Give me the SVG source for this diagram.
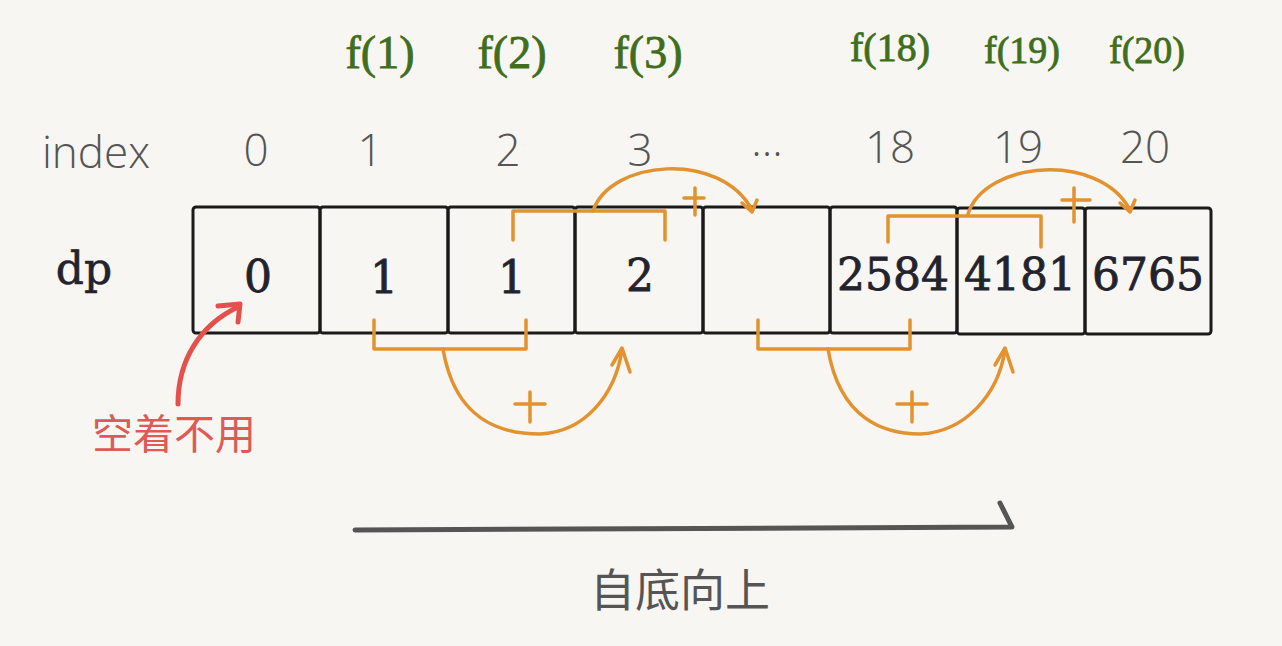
<svg xmlns="http://www.w3.org/2000/svg" width="1282" height="646" viewBox="0 0 1282 646">
<defs>
<style>
.idx{font-family:"Open Sans","Liberation Sans",sans-serif;font-weight:300;font-size:44px;fill:#555;text-anchor:middle}
.f{font-family:"Liberation Serif",serif;fill:#3f6e1c;text-anchor:middle;stroke:#3f6e1c;stroke-width:0.8}
.cell{fill:none;stroke:#1a1a1a;stroke-width:3}
.val{font-family:"DejaVu Serif","Liberation Serif",serif;font-size:44px;fill:#23232e;text-anchor:middle;stroke:#23232e;stroke-width:0.8}
.or{fill:none;stroke:#e2922f;stroke-width:3.5;stroke-linecap:round;stroke-linejoin:round}
.cjk{font-family:"Noto Sans CJK SC",sans-serif}
</style>
</defs>
<rect width="1282" height="646" fill="#f7f6f2"/>

<g id="index-row">
<text class="idx" x="96" y="168">index</text>
<text class="idx" x="256" y="166">0</text>
<text class="idx" x="370" y="166">1</text>
<text class="idx" x="508" y="166">2</text>
<text class="idx" x="640" y="166">3</text>
<text class="idx" x="767" y="169">···</text>
<text class="idx" x="890" y="163">18</text>
<text class="idx" x="1018" y="163">19</text>
<text class="idx" x="1145" y="163">20</text>
</g>

<g id="f-labels">
<text class="f" x="380" y="68" font-size="46">f(1)</text>
<text class="f" x="512" y="68" font-size="46">f(2)</text>
<text class="f" x="648" y="68" font-size="46">f(3)</text>
<text class="f" x="890" y="61" font-size="40">f(18)</text>
<text class="f" x="1022" y="63" font-size="38">f(19)</text>
<text class="f" x="1147" y="63" font-size="38">f(20)</text>
</g>

<g id="dp-label">
<text x="84" y="284" font-family="DejaVu Serif,Liberation Serif,serif" font-size="44" fill="#23232e" stroke="#23232e" stroke-width="0.6" text-anchor="middle">dp</text>
</g>

<g id="cells">
<rect class="cell" x="193" y="207" width="127" height="126" rx="3"/>
<rect class="cell" x="320" y="207" width="128" height="126" rx="3"/>
<rect class="cell" x="448" y="207" width="127" height="126" rx="3"/>
<rect class="cell" x="575" y="207" width="128" height="126" rx="3"/>
<rect class="cell" x="703" y="207" width="127" height="126" rx="3"/>
<rect class="cell" x="830" y="207" width="127" height="126" rx="3"/>
<rect class="cell" x="957" y="208" width="128" height="126" rx="3"/>
<rect class="cell" x="1085" y="208" width="126" height="126" rx="3"/>
</g>

<g id="values">
<text class="val" x="258" y="292" font-size="50">0</text>
<text class="val" x="384" y="293" font-size="46">1</text>
<text class="val" x="512" y="293" font-size="46">1</text>
<text class="val" x="640" y="291" font-size="46">2</text>
<text class="val" x="893" y="290" font-size="41">2584</text>
<text class="val" x="1020" y="290" font-size="41">4181</text>
<text class="val" x="1148" y="290" font-size="41">6765</text>
</g>

<g id="connectors">
<path class="or" d="M513 240 V211 H665 V240"/>
<path class="or" d="M593 211 C610 160 720 150 752 210"/>
<path class="or" d="M742 203 L752 212 L757 200"/>
<path class="or" d="M684 198 H704 M695 188 V215"/>
<path class="or" d="M888 242 V216 H1041 V247"/>
<path class="or" d="M968 214 C985 160 1100 152 1130 210"/>
<path class="or" d="M1120 203 L1130 212 L1135 200"/>
<path class="or" d="M1062 200 H1090 M1074 188 V222"/>
<path class="or" d="M374 320 V349 H526 V320"/>
<path class="or" d="M443 349 C455 420 500 434 540 434 C585 432 615 395 622 350"/>
<path class="or" d="M612 365 L622 348 L630 372"/>
<path class="or" d="M515 404 H545 M530 392 V422"/>
<path class="or" d="M758 320 V349 H910 V320"/>
<path class="or" d="M828 349 C840 420 885 434 920 434 C965 432 998 395 1005 350"/>
<path class="or" d="M995 365 L1005 348 L1013 372"/>
<path class="or" d="M897 404 H927 M912 392 V422"/>
<path d="M178 404 C178 360 200 325 238 307" fill="none" stroke="#e4504b" stroke-width="5" stroke-linecap="round"/>
<path d="M218 306 L240 304 L238 322" fill="none" stroke="#e4504b" stroke-width="5" stroke-linecap="round" stroke-linejoin="round"/>
<path d="M355 530 L1012 527 L1000 503" fill="none" stroke="#555" stroke-width="5" stroke-linecap="round" stroke-linejoin="round"/>
</g>

<g id="notes">
<text class="cjk" x="174" y="449" font-size="41" fill="#e05a55" text-anchor="middle">空着不用</text>
<text class="cjk" x="680" y="607" font-size="45" fill="#555" text-anchor="middle">自底向上</text>
</g>
</svg>
